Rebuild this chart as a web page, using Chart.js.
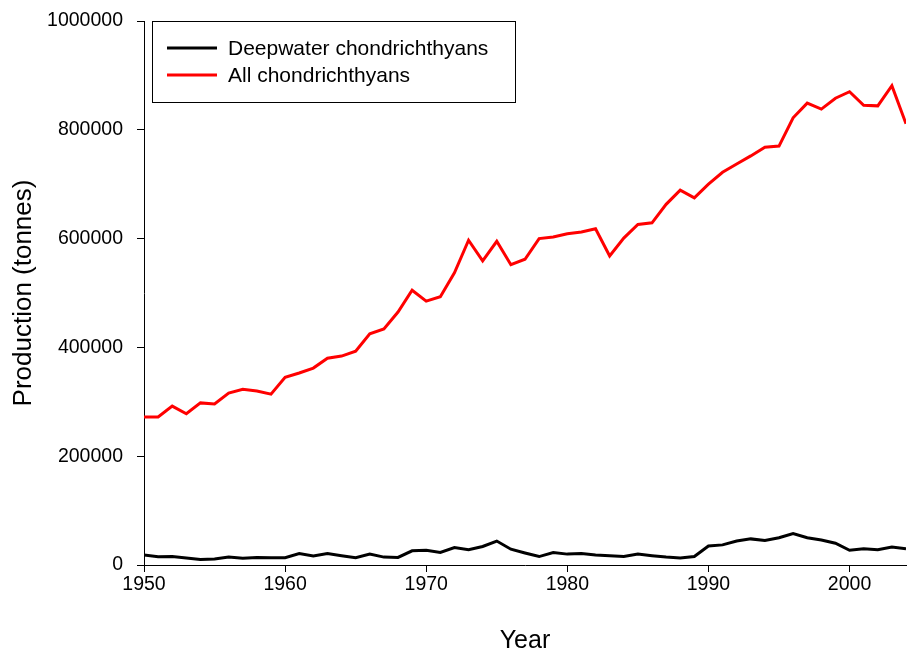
<!DOCTYPE html>
<html>
<head>
<meta charset="utf-8">
<script src="https://cdn.jsdelivr.net/npm/chart.js@4"></script>
<style>
  body { margin: 0; background: #fff; }
</style>
</head>
<body>
<canvas id="bieu_do" width="910" height="654"></canvas>
<script>
const years = [];
for (let y = 1950; y <= 2004; y++) years.push(y);

const deepwater = [
    18400, 15000, 15500, 13000, 10000, 11000, 14500, 12500, 14000, 13500,
    13500, 21000, 16500, 21000, 17000, 13500, 20000, 14500, 14000, 26000,
    27000, 23000, 32000, 28000, 34000, 44000, 29000, 22000, 15500, 23000,
    20000, 21000, 18500, 17000, 15500, 20000, 17000, 14500, 13000, 15500,
    35000, 37000, 44000, 48000, 45000, 50000, 58000, 50000, 46000, 40000,
    27000, 30000, 28000, 33000, 30000
];
const allChond = [
    272000, 272000, 292000, 278000, 298000, 296000, 316000, 323000, 320000, 314000,
    345000, 353000, 362000, 380000, 384000, 393000, 425000, 434000, 465000, 505000,
    485000, 493000, 537000, 597000, 559000, 595000, 552000, 562000, 600000, 603000,
    609000, 612000, 618000, 568000, 601000, 626000, 629000, 663000, 689000, 675000,
    700000, 722000, 737000, 752000, 768000, 770000, 822000, 849000, 838000, 858000,
    870000, 845000, 844000, 881000, 811000
];
const seriesNames = ['Deepwater chondrichthyans', 'All chondrichthyans'];
const seriesColors = ['#000000', '#ff0000'];

const font = 'Arial, "Liberation Sans", sans-serif';

// hop chu thich ve trong vung bieu do
const hopChuThich = {
    id: 'hopChuThich',
    afterDraw(chart) {
        const ctx = chart.ctx;
        const a = chart.chartArea;
        const x0 = a.left + 8, y0 = a.top, w = 363, h = 81;
        ctx.save();
        ctx.strokeStyle = '#000';
        ctx.lineWidth = 1;
        ctx.strokeRect(x0 + 0.5, y0 + 0.5, w, h);
        ctx.font = '21px ' + font;
        ctx.textBaseline = 'middle';
        chart.data.datasets.forEach((ds, i) => {
            const yy = y0 + 27 + i * 27;
            ctx.strokeStyle = ds.borderColor;
            ctx.lineWidth = 3;
            ctx.beginPath();
            ctx.moveTo(x0 + 15, yy);
            ctx.lineTo(x0 + 65, yy);
            ctx.stroke();
            ctx.fillStyle = '#000';
            ctx.fillText(ds.label, x0 + 76, yy + 1);
        });
        ctx.restore();
    }
};

const bieu_do = new Chart(document.getElementById('bieu_do'), {
    type: 'line',
    data: {
        datasets: [deepwater, allChond].map((vals, i) => ({
            label: seriesNames[i],
            data: years.map((yr, j) => ({ x: yr, y: vals[j] })),
            borderColor: seriesColors[i],
            backgroundColor: seriesColors[i],
            borderWidth: 3,
            pointRadius: 0,
            tension: 0,
            fill: false
        }))
    },
    options: {
        responsive: false,
        animation: false,
        layout: { padding: { top: 21, right: 4, left: 0, bottom: 0 } },
        plugins: {
            legend: { display: false },
            tooltip: { enabled: false }
        },
        scales: {
            x: {
                type: 'linear',
                min: 1950,
                max: 2004,
                afterFit(s) { s.height = 89; s.paddingLeft = 0; s.paddingRight = 0; },
                border: { color: '#000', width: 1 },
                grid: { drawOnChartArea: false, drawTicks: true, tickLength: 7, color: '#000' },
                ticks: {
                    stepSize: 10,
                    includeBounds: false,
                    padding: 3,
                    color: '#000',
                    font: { family: font, size: 19.5, lineHeight: 1 },
                    maxRotation: 0,
                    callback: v => String(v)
                },
                title: {
                    display: true,
                    text: 'Year',
                    color: '#000',
                    font: { family: font, size: 25, lineHeight: 1.05 },
                    padding: { top: 0, bottom: 0 }
                }
            },
            y: {
                min: 0,
                max: 1000000,
                afterFit(s) { s.width = 144; s.paddingTop = 0; s.paddingBottom = 0; },
                border: { color: '#000', width: 1 },
                grid: { drawOnChartArea: false, drawTicks: true, tickLength: 7, color: '#000' },
                ticks: {
                    stepSize: 200000,
                    padding: 14,
                    color: '#000',
                    font: { family: font, size: 19.5 },
                    callback: v => String(v)
                },
                title: {
                    display: true,
                    text: 'Production (tonnes)',
                    color: '#000',
                    font: { family: font, size: 26, lineHeight: 1.2 },
                    padding: { top: 8, bottom: 0 }
                }
            }
        }
    },
    plugins: [hopChuThich]
});
</script>
</body>
</html>
